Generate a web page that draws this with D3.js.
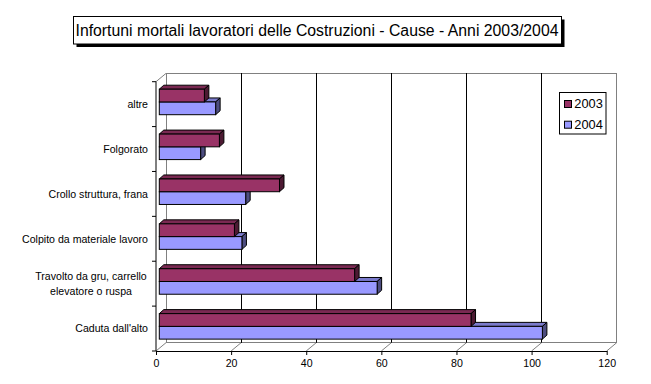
<!DOCTYPE html>
<html>
<head>
<meta charset="utf-8">
<script src="https://cdn.jsdelivr.net/npm/d3@7"></script>
<style>
  body { margin: 0; background: #fff; }
  svg { display: block; font-family: Arial, "Liberation Sans", sans-serif; }
</style>
</head>
<body>
<svg id="chart" width="651" height="384"></svg>
<script>
// data, top to bottom as shown
var categories = ["altre", "Folgorato", "Crollo struttura, frana", "Colpito da materiale lavoro",
                  "Travolto da gru, carrello\nelevatore o ruspa", "Caduta dall'alto"];
var series = ["2003", "2004"];
var values2003 = [12, 16, 32, 20, 52, 83];
var values2004 = [15, 11, 23, 22, 58, 102];
var xTicks = [0, 20, 40, 60, 80, 100, 120];

var colors = {
  "2003": {front: "#993366", top: "#7a2952", side: "#4d1a33"},
  "2004": {front: "#9999ff", top: "#7a7acc", side: "#4d4d80"}
};

var svg = d3.select("#chart");

var x = d3.scaleLinear().domain([0, 120]).range([156, 606.7]);
var y = d3.scaleBand().domain(categories).range([81.7, 351]);
var yInner = d3.scaleBand().domain(series).range([7.5, 33]);

var wall = {dx: 10, dy: -8.3};   // depth of back wall
var bar = {off: 3.3, dx: 4.5, dy: -4};  // bar offset and depth
var floorY = 351, topY = 81.7;
var grey = "#808080";

// back wall + floor frame
var g = svg.append("g");
function line(x1, y1, x2, y2, c) {
  g.append("line").attr("x1", x1).attr("y1", y1).attr("x2", x2).attr("y2", y2)
    .attr("stroke", c).attr("stroke-width", 1).attr("shape-rendering", "crispEdges");
}
var bx0 = x(0) + wall.dx, bx1 = x(120) + wall.dx;
var by0 = topY + wall.dy, by1 = floorY + wall.dy;
line(bx0, by0, bx1, by0, grey);
line(bx1, by0, bx1, by1, grey);
line(bx0, by0, bx0, by1, grey);
line(bx0, by1, bx1, by1, grey);
g.append("line").attr("x1", x(0)).attr("y1", topY).attr("x2", bx0).attr("y2", by0).attr("stroke", grey);

xTicks.forEach(function(v) {
  if (v > 0 && v < 120) line(x(v) + wall.dx, by0, x(v) + wall.dx, by1, "#000");
  g.append("line").attr("x1", x(v)).attr("y1", floorY).attr("x2", x(v) + wall.dx).attr("y2", by1)
    .attr("stroke", grey);
});

// bars (bottom category first, lower series first)
var data = [];
categories.forEach(function(c, i) {
  data.push({cat: c, s: "2004", v: values2004[i]});
  data.push({cat: c, s: "2003", v: values2003[i]});
});
data.sort(function(a, b) {
  return categories.indexOf(b.cat) - categories.indexOf(a.cat) || (a.s === "2004" ? -1 : 1);
});

var bars = svg.append("g").selectAll("g").data(data).enter().append("g");
function pts(p) { return p.map(function(d) { return d.join(","); }).join(" "); }
bars.each(function(d) {
  var x0 = x(0) + bar.off, x1 = x(d.v) + bar.off;
  var y0 = y(d.cat) + yInner(d.s), h = yInner.bandwidth();
  var sel = d3.select(this), c = colors[d.s];
  sel.append("polygon").attr("points", pts([[x0, y0], [x1, y0], [x1 + bar.dx, y0 + bar.dy], [x0 + bar.dx, y0 + bar.dy]]))
    .attr("fill", c.top).attr("stroke", "#000");
  sel.append("polygon").attr("points", pts([[x1, y0], [x1 + bar.dx, y0 + bar.dy], [x1 + bar.dx, y0 + h + bar.dy], [x1, y0 + h]]))
    .attr("fill", c.side).attr("stroke", "#000");
  sel.append("rect").attr("x", x0).attr("y", y0).attr("width", x1 - x0).attr("height", h)
    .attr("fill", c.front).attr("stroke", "#000");
});

// front axes
svg.append("g")
  .attr("transform", "translate(0," + floorY + ")")
  .call(d3.axisBottom(x).tickValues(xTicks).tickSize(4).tickSizeOuter(0).tickPadding(4))
  .call(function(a) {
    a.selectAll("text").attr("font-size", "10.6px").attr("font-family", "Arial, 'Liberation Sans', sans-serif").attr("fill", "#000");
    a.selectAll("line,path").attr("stroke", "#000");
  });

var ya = svg.append("g");
ya.append("line").attr("x1", x(0)).attr("x2", x(0)).attr("y1", topY).attr("y2", floorY).attr("stroke", "#000");
categories.concat([null]).forEach(function(c) {
  var yy = c === null ? floorY : y(c);
  ya.append("line").attr("x1", x(0) - 4).attr("x2", x(0)).attr("y1", yy).attr("y2", yy).attr("stroke", "#000");
});
categories.forEach(function(c) {
  var lines = c.split("\n");
  var cy = y(c) + y.bandwidth() / 2;
  var t = ya.append("text").attr("font-size", "10.6px").attr("fill", "#000");
  if (lines.length === 1) {
    t.attr("x", 148).attr("y", cy).attr("dy", "0.35em").attr("text-anchor", "end").text(c);
  } else {
    t.attr("text-anchor", "middle");
    lines.forEach(function(l, i) {
      t.append("tspan").attr("x", 91).attr("y", cy + (i - (lines.length - 1) / 2) * 15)
        .attr("dy", "0.35em").text(l);
    });
  }
});

// legend
var lg = svg.append("g");
lg.append("rect").attr("x", 559.5).attr("y", 92.5).attr("width", 46.5).attr("height", 41.5)
  .attr("fill", "#fff").attr("stroke", "#000");
series.forEach(function(s, i) {
  var yy = 104 + i * 20.7;
  lg.append("rect").attr("x", 564.5).attr("y", yy - 3.5).attr("width", 7).attr("height", 7)
    .attr("fill", colors[s].front).attr("stroke", "#000");
  lg.append("text").attr("x", 574.3).attr("y", yy).attr("dy", "0.35em")
    .attr("font-size", "12.8px").attr("fill", "#000").text(s);
});

// title
var tg = svg.append("g");
tg.append("rect").attr("x", 76.5).attr("y", 19.5).attr("width", 488).attr("height", 27.5).attr("fill", "#000");
tg.append("rect").attr("x", 73.5).attr("y", 16.5).attr("width", 488).attr("height", 27.5)
  .attr("fill", "#fff").attr("stroke", "#000");
tg.append("text").attr("x", 317).attr("y", 30.5).attr("dy", "0.36em").attr("text-anchor", "middle")
  .attr("font-size", "15.8px").attr("fill", "#000")
  .text("Infortuni mortali lavoratori delle Costruzioni - Cause - Anni 2003/2004");
</script>
</body>
</html>
